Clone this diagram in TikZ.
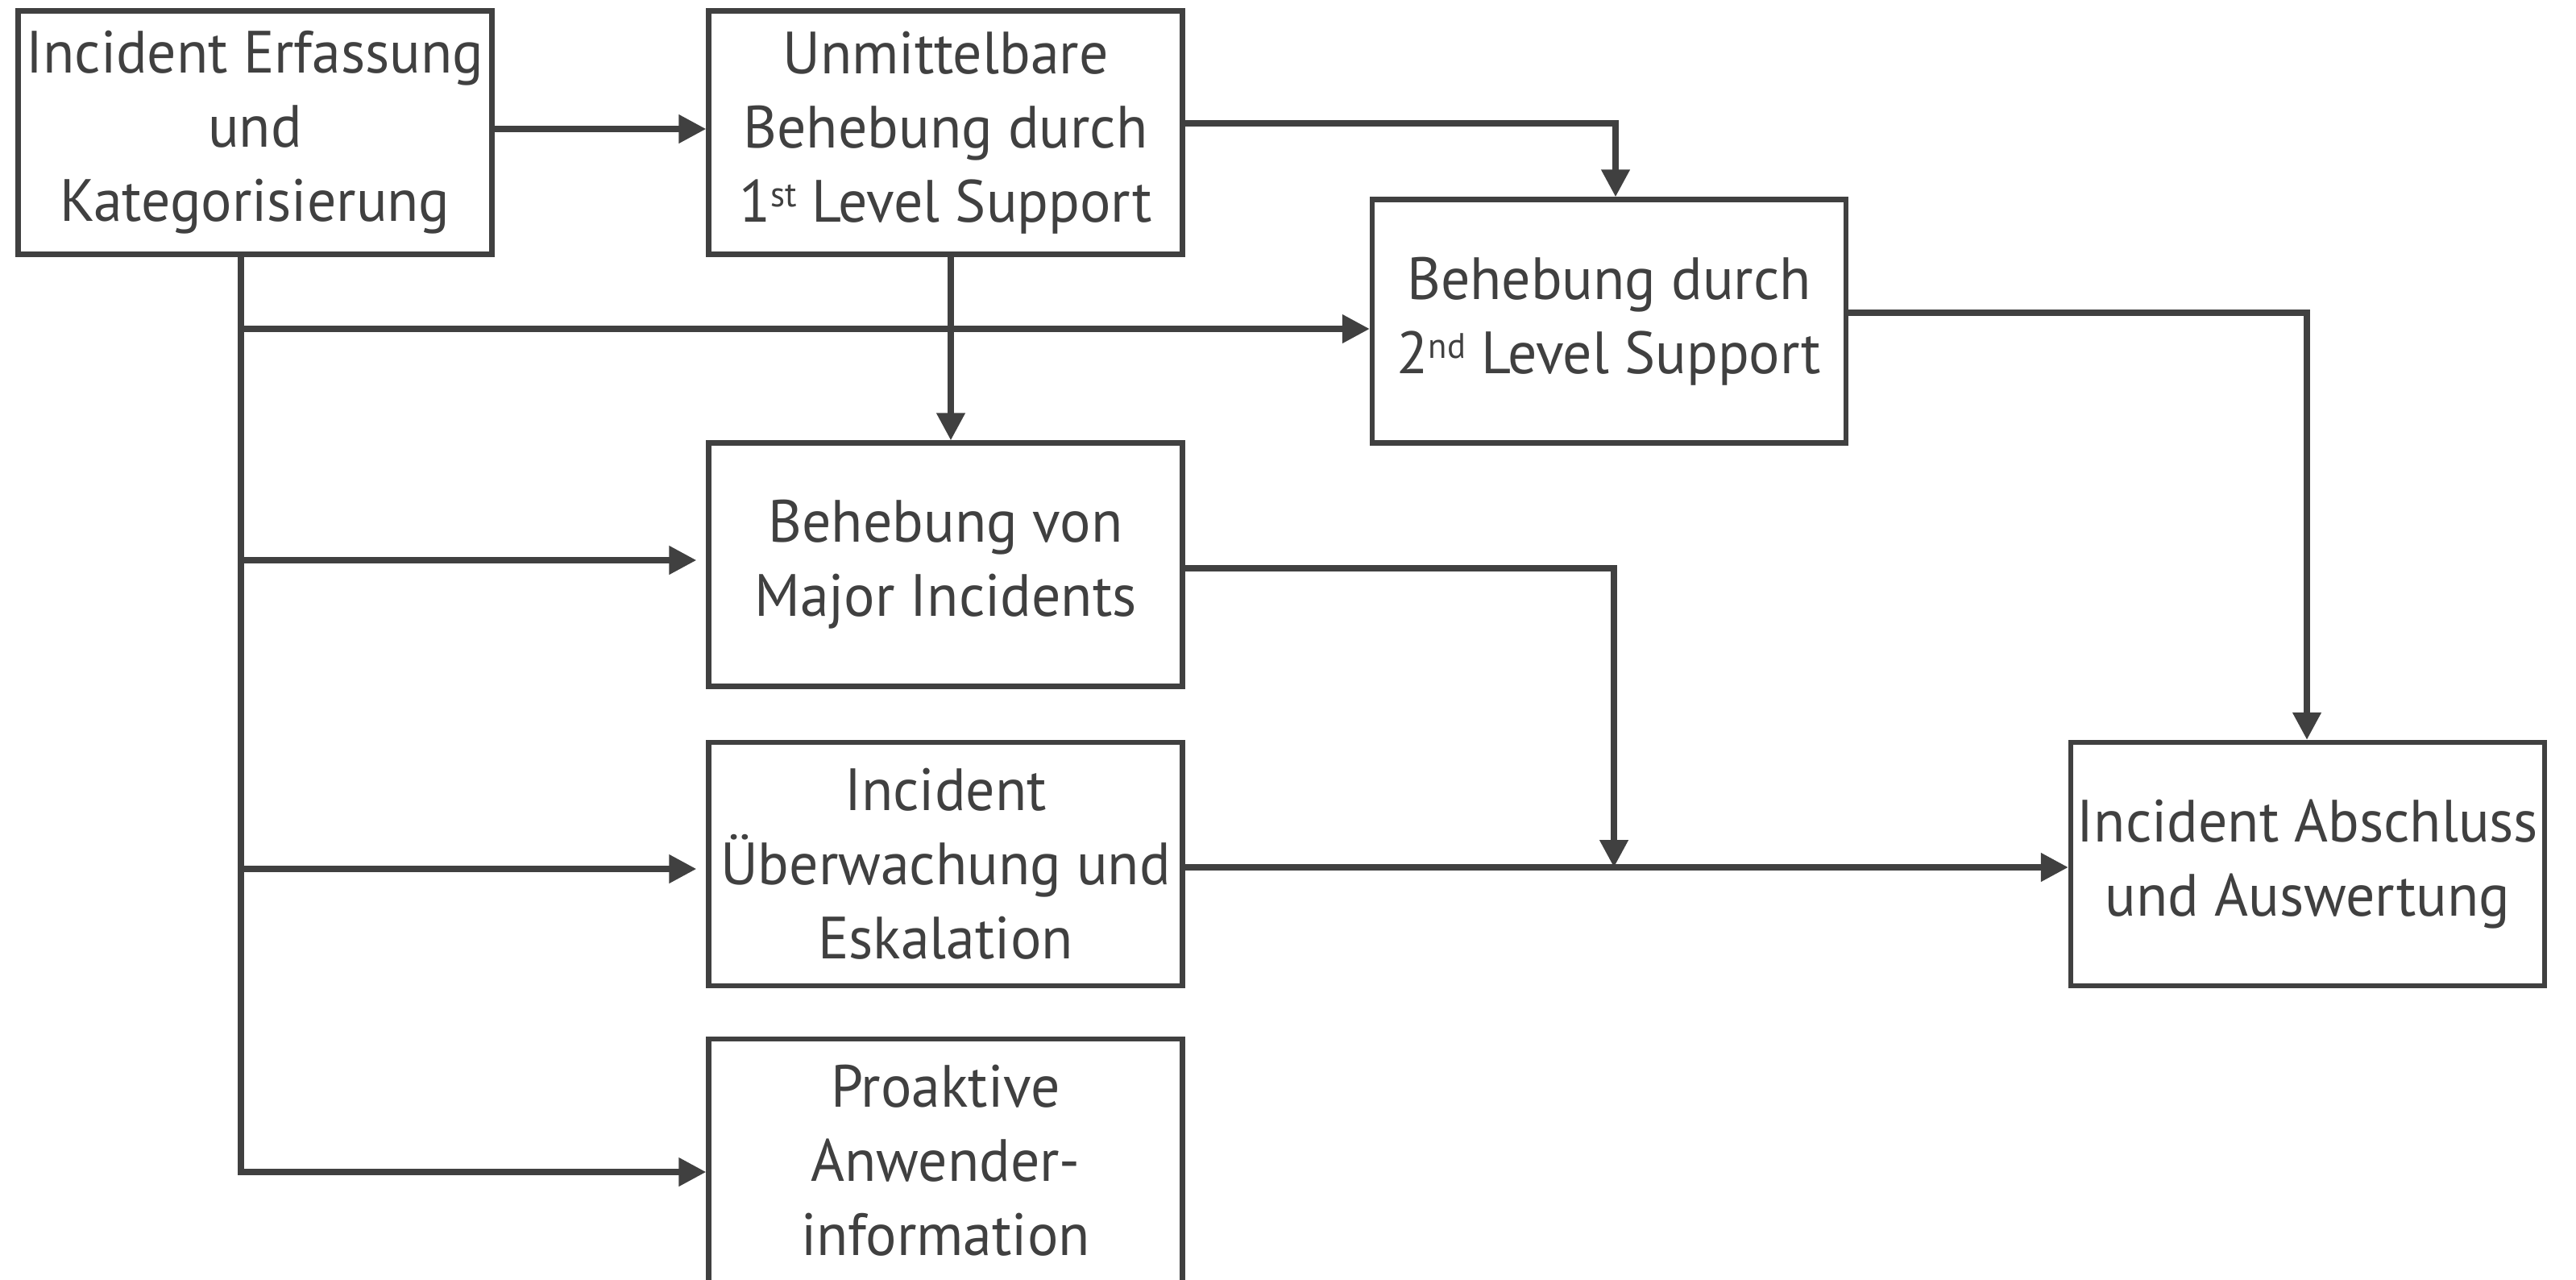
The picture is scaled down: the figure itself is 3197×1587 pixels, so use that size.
\documentclass[tikz,border=0pt]{standalone}
\usepackage{fontspec}
\setmainfont[FakeStretch=0.97]{PT Sans}
\usetikzlibrary{arrows.meta}
\definecolor{ink}{HTML}{404040}
\newcommand{\ordsup}[1]{\raisebox{0.5ex}{\fontsize{11}{11}\selectfont #1}}
\begin{document}
\begin{tikzpicture}[x=0.25pt,y=-0.25pt,
  box/.style={draw=ink, line width=1.6pt, minimum width=147pt, minimum height=75.5pt,
    inner sep=0pt, align=center, text=ink, font=\fontsize{18.5}{23}\selectfont},
  conn/.style={draw=ink, line width=1.9pt, -{Triangle[length=8.5pt,width=8.5pt]}},
  ]
\useasboundingbox (0,0) rectangle (3197,1587);
\fill[white] (0,0) rectangle (3197,1587);

% process boxes
\node[box] (erf)   at (316.5,164.5) {Incident Erfassung\\und\\Kategorisierung};
\node[box] (unm)   at (1173.5,164.5) {Unmittelbare\\Behebung durch\\1\ordsup{st} Level Support};
\node[box] (lvl2)  at (1997,398.5) {Behebung durch\\2\ordsup{nd} Level Support};
\node[box] (major) at (1173.5,700.5) {Behebung von\\Major Incidents};
\node[box] (ueb)   at (1173.5,1072) {Incident\\Überwachung und\\Eskalation};
\node[box] (pro)   at (1173.5,1440) {Proaktive\\Anwender-\\information};
\node[box] (abs)   at (2864,1072) {Incident Abschluss\\und Auswertung};

% routing points
\coordinate (j12) at (0,160);
\coordinate (k23) at (2005,153);
\coordinate (k24) at (1180,0);
\coordinate (t)   at (299,1454);
\coordinate (b3)  at (299,408);
\coordinate (b4)  at (299,695);
\coordinate (b5)  at (299,1078);
\coordinate (k37) at (2863,388);
\coordinate (k4)  at (2003,705);
\coordinate (m)   at (2003,1076);

% connectors
\draw[conn] (erf.east |- j12) -- (unm.west |- j12);
\draw[conn] (unm.east |- k23) -- (k23) -- (k23 |- lvl2.north);
\draw[conn] (unm.south -| k24) -- (k24 |- major.north);
\draw[conn] (erf.south -| t) -- (t) -- (t -| pro.west);
\draw[conn] (b3) -- (b3 -| lvl2.west);
\draw[conn, shorten >=3pt] (b4) -- (b4 -| major.west);
\draw[conn, shorten >=3pt] (b5) -- (b5 -| ueb.west);
\draw[conn] (lvl2.east |- k37) -- (k37) -- (k37 |- abs.north);
\draw[conn] (major.east |- k4) -- (k4) -- (m);
\draw[conn] (ueb.east |- m) -- (m -| abs.west);
\end{tikzpicture}
\end{document}
